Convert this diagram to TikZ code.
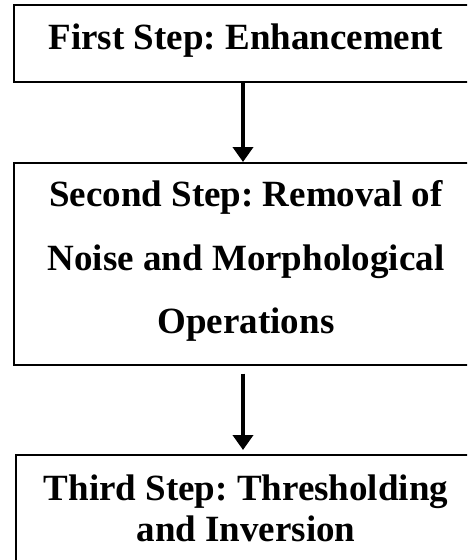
\documentclass[tikz,border=0pt]{standalone}
\usepackage{fontspec}
\setmainfont{Liberation Serif}
\usetikzlibrary{arrows.meta}
\begin{document}
\frenchspacing
\begin{tikzpicture}[x=1pt,y=-1pt,
  stepbox/.style={draw=black,line width=1.5pt,rectangle},
  lbl/.style={anchor=base,inner sep=0pt,font=\fontsize{37}{44}\selectfont\bfseries},
  arr/.style={line width=4.2pt,-{Triangle[width=20pt,length=15pt]}}]
\useasboundingbox (0,0) rectangle (467,560);
\clip (0,0) rectangle (467,560);
% boxes
\node[stepbox,minimum width=520pt,minimum height=77pt,anchor=north west] (b1) at (13,4) {};
\node[stepbox,minimum width=520pt,minimum height=202pt,anchor=north west] (b2) at (13,162) {};
\node[stepbox,minimum width=520pt,minimum height=150pt,anchor=north west] (b3) at (15,454) {};
% texts
\node[lbl] (t1) at (246,49) {First Step: Enhancement};
\node[lbl] (t2a) at (246,206.5) {Second Step: Removal of};
\node[lbl] (t2b) at (246,270) {Noise and Morphological};
\node[lbl] (t2c) at (246,333) {Operations};
\node[lbl] (t3a) at (246,500) {Third Step: Thresholding};
\node[lbl] (t3b) at (246,541) {and Inversion};
% arrows
\coordinate (ax) at (243,0);
\draw[arr] (b1.south -| ax) -- (b2.north -| ax);
\draw[arr,shorten <=8pt,shorten >=4pt] (b2.south -| ax) -- (b3.north -| ax);
\end{tikzpicture}
\end{document}
